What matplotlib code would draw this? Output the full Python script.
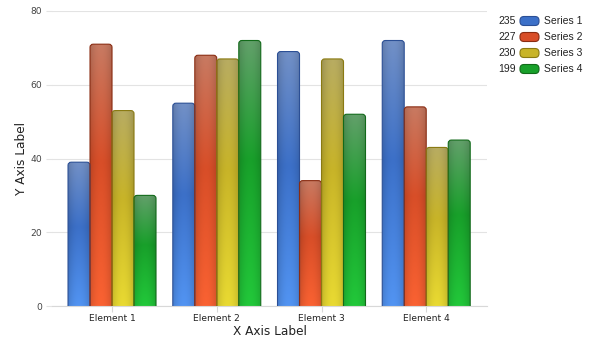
import numpy as np
import matplotlib
matplotlib.use("Agg")
import matplotlib.pyplot as plt
from matplotlib.patches import FancyBboxPatch
from matplotlib.colors import to_rgb
from matplotlib.transforms import IdentityTransform

categories = ["Element 1", "Element 2", "Element 3", "Element 4"]
series_names = ["Series 1", "Series 2", "Series 3", "Series 4"]
series1 = [39, 55, 69, 72]
series2 = [71, 68, 34, 54]
series3 = [53, 67, 67, 43]
series4 = [30, 72, 52, 45]
all_series = [series1, series2, series3, series4]
y_ticks = [0, 20, 40, 60, 80]

# (top, middle, bottom, edge) colours per series
palettes = [
    ("#7290c6", "#3c70c8", "#5294f2", "#2b4f95"),
    ("#c87a62", "#d84e28", "#fa6232", "#8a2c12"),
    ("#b8ac62", "#c8b428", "#e9da32", "#8a7a12"),
    ("#62a06a", "#18a02a", "#22c83a", "#126a1a"),
]

fig = plt.figure(figsize=(6, 3.5), dpi=100)
ax = fig.add_axes([52/600, 44/350, 435/600, 295/350])

n = len(all_series)
bw = 0.21
x = np.arange(len(categories))

def grad_img(top, mid, bot, ny=120, nx=30):
    top, mid, bot = map(np.array, (to_rgb(top), to_rgb(mid), to_rgb(bot)))
    t = np.linspace(0, 1, ny)[:, None]
    col = np.where(t < 0.55,
                   bot + (mid - bot) * (t / 0.55),
                   mid + (top - mid) * ((t - 0.55) / 0.45))
    u = np.linspace(-1, 1, nx)[None, :]
    shade = 1.0 - 0.14 * u**2
    img = col[:, None, :] * shade[..., None]
    return np.clip(img, 0, 1)

r = 0.03
asp = 0.85 / r
for si, vals in enumerate(all_series):
    top, mid, bot, edge = palettes[si]
    img = grad_img(top, mid, bot)
    for ci, v in enumerate(vals):
        x0 = x[ci] - n * bw / 2 + si * bw
        patch = FancyBboxPatch((x0, -6), bw, v + 6,
                               boxstyle=f"round,pad=0,rounding_size={r}",
                               mutation_aspect=asp, facecolor="none",
                               edgecolor=edge, linewidth=0.8, zorder=3)
        ax.add_patch(patch)
        im = ax.imshow(img, extent=[x0, x0 + bw, 0, v], origin="lower",
                       aspect="auto", interpolation="bilinear", zorder=2)
        im.set_clip_path(patch)

ax.set_xlim(-0.573, 3.58)
ax.set_ylim(0, 80)
ax.set_yticks(y_ticks)
ax.set_xticks(x)
ax.set_xticklabels(categories, fontsize=6.6, color="#222222")
ax.tick_params(axis="y", labelsize=6.6, labelcolor="#444444", length=4,
               color="#e3e3e3", pad=3)
ax.tick_params(axis="x", length=4, color="#d8d8d8", pad=2)
ax.grid(axis="y", color="#e3e3e3", linewidth=0.8, zorder=0)
ax.set_axisbelow(True)
for s in ["top", "right", "left"]:
    ax.spines[s].set_visible(False)
ax.spines["bottom"].set_color("#d8d8d8")
ax.spines["bottom"].set_linewidth(0.8)
ax.set_xlabel("X Axis Label", fontsize=8.7, color="#222222", labelpad=1)
ax.set_ylabel("Y Axis Label", fontsize=8.7, color="#222222")
ax.yaxis.set_label_coords(-0.055, 0.5)

# legend
for si, vals in enumerate(all_series):
    top, mid, bot, edge = palettes[si]
    yc = 350 - (21 + 16 * si)
    p = FancyBboxPatch((520, yc - 4.5), 19, 9,
                       boxstyle="round,pad=0,rounding_size=4",
                       transform=IdentityTransform(), facecolor=mid,
                       edgecolor=edge, linewidth=0.8)
    fig.add_artist(p)
    fig.text(516/600, yc/350, str(sum(vals)), ha="right", va="center",
             fontsize=7.5, family="Liberation Sans", color="#222222")
    fig.text(544/600, yc/350, series_names[si], ha="left", va="center",
             fontsize=7.5, family="Liberation Sans", color="#222222")

fig.savefig("out.png", dpi=100)
